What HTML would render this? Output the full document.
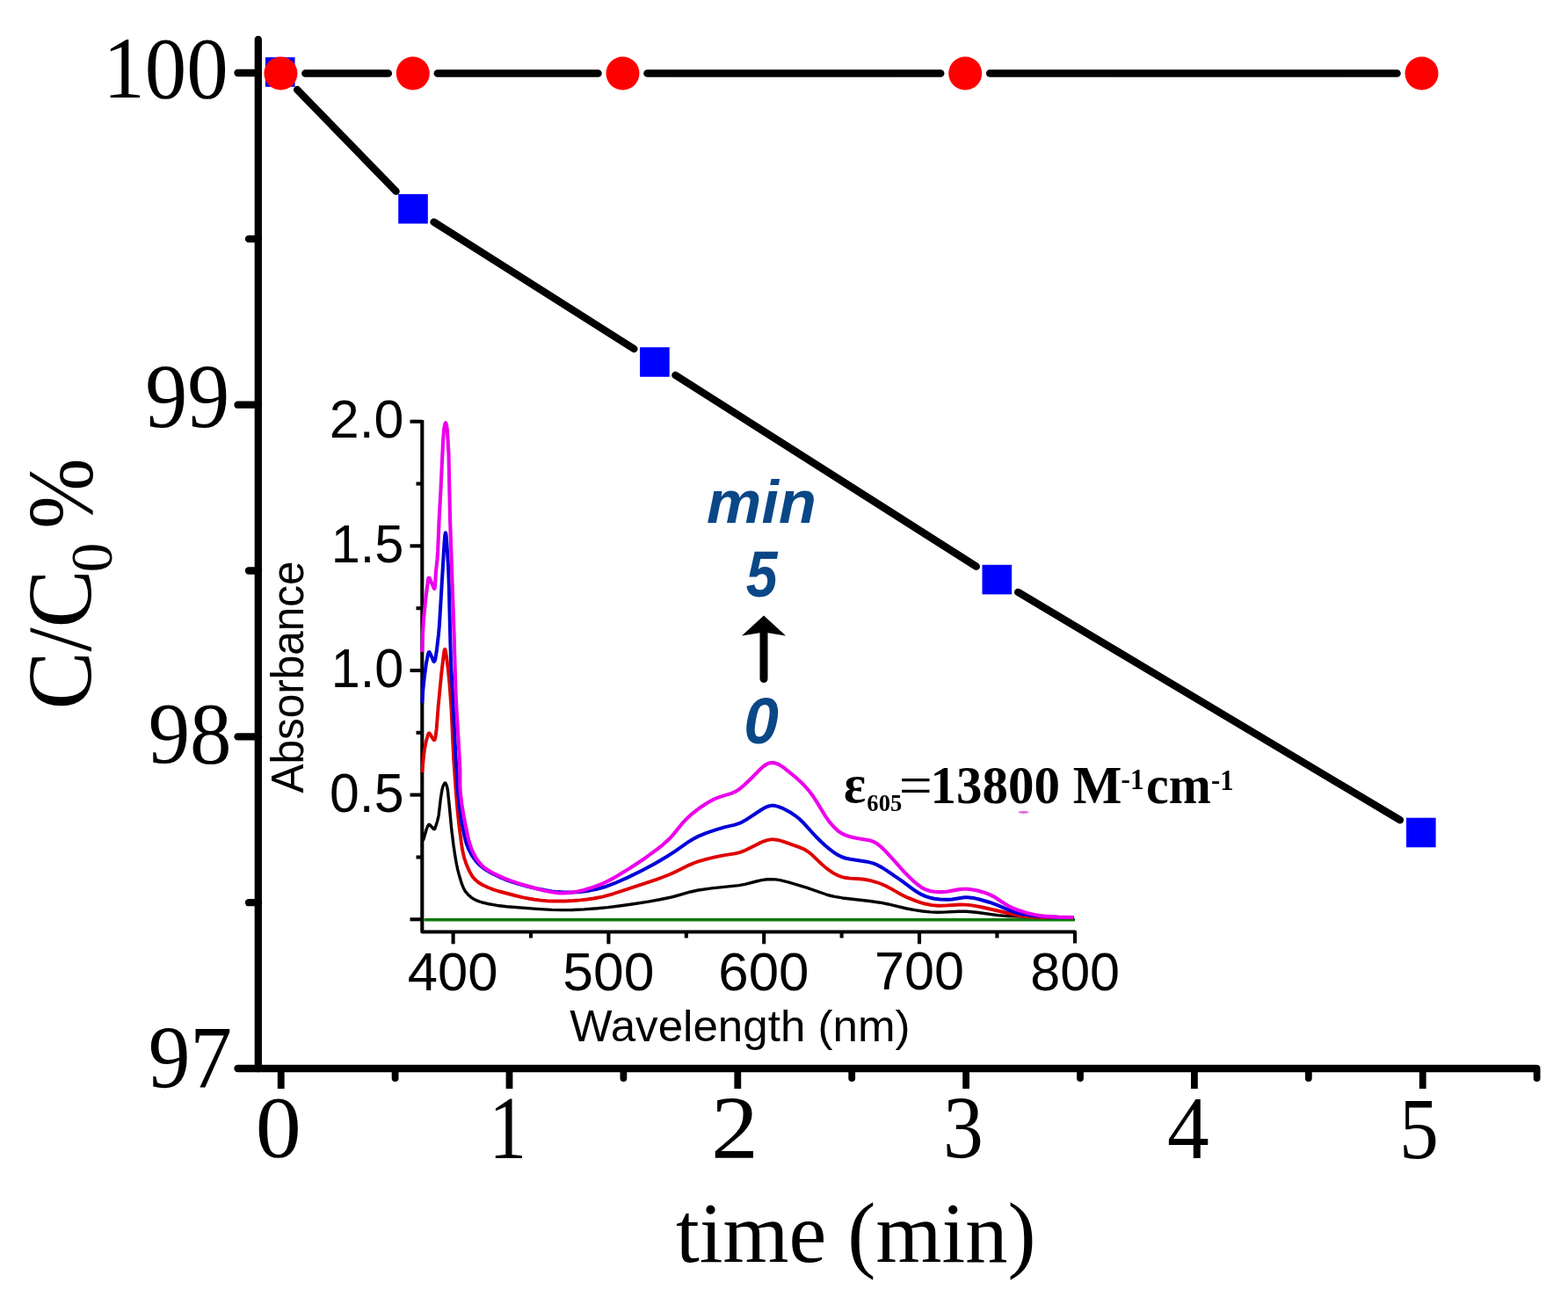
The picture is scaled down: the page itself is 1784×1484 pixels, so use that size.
<!DOCTYPE html><html><head><meta charset="utf-8"><style>html,body{margin:0;padding:0;background:#fff;}svg{display:block;}</style></head><body>
<svg width="1784" height="1484" viewBox="0 0 1784 1484">
<rect width="1784" height="1484" fill="#fff"/>
<g stroke="#000" fill="none">
<line x1="293.8" y1="45" x2="293.8" y2="1216" stroke-width="8.3" stroke-linecap="round"/>
<line x1="270.5" y1="1216" x2="1748" y2="1216" stroke-width="8.3" stroke-linecap="round"/>
<line x1="270.5" y1="83.0" x2="294" y2="83.0" stroke-width="8.3" stroke-linecap="round"/>
<line x1="270.5" y1="460.7" x2="294" y2="460.7" stroke-width="8.3" stroke-linecap="round"/>
<line x1="270.5" y1="838.4" x2="294" y2="838.4" stroke-width="8.3" stroke-linecap="round"/>
<line x1="283" y1="271.9" x2="294" y2="271.9" stroke-width="8.3" stroke-linecap="round"/>
<line x1="283" y1="649.5" x2="294" y2="649.5" stroke-width="8.3" stroke-linecap="round"/>
<line x1="283" y1="1027.2" x2="294" y2="1027.2" stroke-width="8.3" stroke-linecap="round"/>
<line x1="319.7" y1="1216" x2="319.7" y2="1239" stroke-width="7.8"/>
<line x1="579.5" y1="1216" x2="579.5" y2="1239" stroke-width="7.8"/>
<line x1="839.3" y1="1216" x2="839.3" y2="1239" stroke-width="7.8"/>
<line x1="1099.1" y1="1216" x2="1099.1" y2="1239" stroke-width="7.8"/>
<line x1="1358.9" y1="1216" x2="1358.9" y2="1239" stroke-width="7.8"/>
<line x1="1618.7" y1="1216" x2="1618.7" y2="1239" stroke-width="7.8"/>
<line x1="449.6" y1="1216" x2="449.6" y2="1227" stroke-width="7.8" stroke-linecap="round"/>
<line x1="709.4" y1="1216" x2="709.4" y2="1227" stroke-width="7.8" stroke-linecap="round"/>
<line x1="969.2" y1="1216" x2="969.2" y2="1227" stroke-width="7.8" stroke-linecap="round"/>
<line x1="1229.0" y1="1216" x2="1229.0" y2="1227" stroke-width="7.8" stroke-linecap="round"/>
<line x1="1488.8" y1="1216" x2="1488.8" y2="1227" stroke-width="7.8" stroke-linecap="round"/>
<line x1="1748.6" y1="1216" x2="1748.6" y2="1227" stroke-width="7.8" stroke-linecap="round"/>
</g>
<g stroke="#000" stroke-width="8.5" stroke-linecap="round" fill="none">
<line x1="347.4" y1="83.5" x2="441.8" y2="83.5"/>
<line x1="497.8" y1="83.5" x2="680.5" y2="83.5"/>
<line x1="736.5" y1="83.5" x2="1070.2" y2="83.5"/>
<line x1="1126.2" y1="83.5" x2="1589.5" y2="83.5"/>
<line x1="338.2" y1="102.1" x2="450.5" y2="217.6"/>
<line x1="493.6" y1="252.7" x2="721.3" y2="397.0"/>
<line x1="768.5" y1="427.0" x2="1110.7" y2="644.6"/>
<line x1="1158.3" y1="673.9" x2="1592.8" y2="933.2"/>
</g>
<rect x="301.9" y="65.2" width="33.6" height="33.6" fill="#0000ff"/>
<rect x="453.2" y="220.9" width="33.6" height="33.6" fill="#0000ff"/>
<rect x="728.1" y="395.2" width="33.6" height="33.6" fill="#0000ff"/>
<rect x="1117.5" y="642.8" width="33.6" height="33.6" fill="#0000ff"/>
<rect x="1600.0" y="930.7" width="33.6" height="33.6" fill="#0000ff"/>
<circle cx="319.4" cy="83.5" r="19" fill="#ff0000"/>
<circle cx="469.8" cy="83.5" r="19" fill="#ff0000"/>
<circle cx="708.5" cy="83.5" r="19" fill="#ff0000"/>
<circle cx="1098.2" cy="83.5" r="19" fill="#ff0000"/>
<circle cx="1617.5" cy="83.5" r="19" fill="#ff0000"/>
<g stroke="#000" fill="none" stroke-width="4.1">
<polyline points="480.3,478 480.3,1060.5 1223,1060.5 1223,1073.5" stroke-linejoin="round"/>
<line x1="466.5" y1="1046.3" x2="480.3" y2="1046.3"/>
<line x1="466.5" y1="904.6" x2="480.3" y2="904.6"/>
<line x1="466.5" y1="763.0" x2="480.3" y2="763.0"/>
<line x1="466.5" y1="621.3" x2="480.3" y2="621.3"/>
<line x1="466.5" y1="479.7" x2="480.3" y2="479.7"/>
<line x1="473.5" y1="975.5" x2="480" y2="975.5"/>
<line x1="473.5" y1="833.8" x2="480" y2="833.8"/>
<line x1="473.5" y1="692.2" x2="480" y2="692.2"/>
<line x1="473.5" y1="550.5" x2="480" y2="550.5"/>
<line x1="515.6" y1="1060.5" x2="515.6" y2="1074.3"/>
<line x1="692.4" y1="1060.5" x2="692.4" y2="1074.3"/>
<line x1="869.2" y1="1060.5" x2="869.2" y2="1074.3"/>
<line x1="1046.0" y1="1060.5" x2="1046.0" y2="1074.3"/>
<line x1="604.0" y1="1060.5" x2="604.0" y2="1067.5"/>
<line x1="780.8" y1="1060.5" x2="780.8" y2="1067.5"/>
<line x1="957.6" y1="1060.5" x2="957.6" y2="1067.5"/>
<line x1="1134.4" y1="1060.5" x2="1134.4" y2="1067.5"/>
</g>
<line x1="482.5" y1="1046.8" x2="1223" y2="1046.8" stroke="#0a780a" stroke-width="3.6"/>
<path d="M480.50,957.00 L481.70,955.50 L482.05,954.67 L485.13,943.94 L486.49,940.62 L487.61,938.67 L488.20,938.30 L489.09,938.75 L493.39,943.49 L494.10,943.70 L494.59,943.34 L495.03,942.59 L497.68,934.22 L499.15,927.76 L501.33,908.84 L503.04,898.36 L503.73,895.75 L504.58,893.62 L505.89,891.36 L506.50,891.00 L507.05,891.38 L508.06,893.61 L508.88,896.49 L509.34,899.17 L511.03,915.05 L513.76,943.82 L515.98,961.81 L517.79,974.17 L519.43,983.35 L520.88,990.16 L522.12,994.94 L525.50,1006.15 L527.46,1010.94 L529.40,1014.30 L532.63,1018.20 L536.60,1021.64 L539.60,1023.51 L543.60,1025.36 L548.60,1027.01 L554.60,1028.47 L565.60,1030.44 L576.60,1031.76 L610.60,1034.38 L627.60,1035.37 L639.60,1035.67 L651.60,1035.51 L664.60,1034.90 L679.60,1033.78 L691.60,1032.60 L704.60,1031.02 L720.60,1028.75 L737.60,1026.09 L750.60,1023.78 L761.60,1021.51 L768.60,1019.75 L785.60,1014.97 L794.60,1013.01 L809.60,1010.88 L840.60,1007.63 L847.60,1006.31 L860.60,1002.99 L866.60,1001.66 L872.60,1000.79 L878.60,1000.60 L882.60,1000.88 L887.60,1001.63 L897.60,1004.03 L917.60,1010.05 L939.60,1017.77 L944.60,1019.25 L949.60,1020.44 L958.60,1021.94 L989.60,1025.52 L1001.60,1027.20 L1010.60,1028.97 L1031.60,1034.00 L1040.60,1035.65 L1049.60,1037.00 L1058.60,1037.92 L1066.60,1038.24 L1073.60,1038.08 L1090.60,1037.22 L1099.60,1037.26 L1110.60,1038.20 L1135.60,1041.68 L1146.60,1042.57 L1170.60,1043.32 L1221.60,1043.97" stroke="#000000" stroke-width="3.4" fill="none" stroke-linejoin="round"/>
<path d="M480.30,879.00 L481.99,861.05 L483.00,853.00 L484.77,843.71 L486.95,836.18 L487.76,834.58 L488.20,834.30 L488.86,834.65 L492.91,841.28 L493.52,842.08 L494.10,842.30 L494.79,841.41 L495.54,838.54 L496.64,829.75 L498.69,803.18 L502.28,766.23 L504.97,743.56 L505.59,740.19 L505.89,739.24 L506.20,738.90 L506.55,739.32 L506.91,740.48 L507.97,747.00 L509.92,762.62 L511.38,777.51 L513.42,805.32 L516.14,863.87 L518.81,901.54 L520.48,921.48 L522.04,936.95 L524.81,958.71 L526.20,967.69 L528.04,975.94 L530.51,983.34 L533.89,991.13 L537.32,997.18 L540.32,1000.81 L544.32,1004.21 L549.32,1007.24 L555.32,1010.04 L561.32,1012.34 L567.32,1014.26 L586.32,1019.26 L595.32,1021.34 L602.32,1022.73 L608.32,1023.72 L615.32,1024.60 L622.32,1025.21 L629.32,1025.55 L643.32,1025.49 L652.32,1025.05 L660.32,1024.43 L668.32,1023.55 L675.32,1022.52 L686.32,1020.30 L697.32,1017.27 L746.32,1001.05 L755.32,997.76 L762.32,994.95 L769.32,991.75 L784.32,984.35 L789.32,982.21 L794.32,980.40 L802.32,978.04 L812.32,975.66 L823.32,973.41 L836.32,971.33 L841.32,970.12 L844.32,969.13 L848.32,967.47 L863.32,959.89 L869.32,957.28 L872.32,956.29 L875.32,955.62 L877.32,955.37 L880.32,955.31 L885.32,956.00 L890.32,957.44 L909.32,964.15 L913.32,965.82 L916.32,967.34 L920.32,969.91 L923.32,972.30 L935.32,983.87 L940.32,988.13 L947.32,993.07 L951.32,995.35 L954.32,996.75 L958.32,998.16 L962.32,999.06 L967.32,999.65 L978.32,1000.26 L983.32,1000.75 L990.32,1002.07 L997.32,1004.03 L1003.32,1006.22 L1008.32,1008.46 L1013.32,1011.10 L1025.32,1017.94 L1032.32,1021.42 L1042.32,1025.41 L1047.32,1027.09 L1052.32,1028.51 L1060.32,1030.14 L1067.32,1030.76 L1074.32,1030.65 L1092.32,1029.51 L1098.32,1029.59 L1104.32,1030.15 L1110.32,1031.07 L1116.32,1032.25 L1156.32,1041.27 L1163.32,1042.49 L1169.32,1043.19 L1176.32,1043.66 L1185.32,1043.94 L1221.32,1043.97" stroke="#e00000" stroke-width="3.9" fill="none" stroke-linejoin="round"/>
<path d="M480.30,800.00 L481.30,785.00 L482.75,771.02 L484.66,756.67 L487.00,744.48 L487.88,742.21 L488.20,742.00 L488.72,742.31 L491.49,748.11 L492.97,751.92 L493.44,752.73 L493.90,753.00 L494.49,752.37 L495.25,750.04 L496.67,741.71 L498.98,722.03 L499.95,711.06 L505.37,619.66 L506.18,609.79 L506.54,607.29 L506.90,606.40 L507.17,606.87 L507.55,608.83 L508.29,616.26 L510.10,645.81 L510.86,667.74 L512.04,718.60 L513.09,755.06 L515.58,798.90 L518.38,858.93 L520.78,896.83 L521.80,908.12 L523.43,922.49 L525.44,936.36 L528.45,951.47 L530.51,959.43 L533.00,966.00 L537.24,974.13 L541.24,979.63 L544.24,982.95 L547.24,985.76 L551.24,988.87 L554.24,990.86 L560.24,994.23 L568.24,998.06 L575.24,1001.03 L583.24,1003.93 L591.24,1006.40 L601.24,1009.05 L612.24,1011.58 L621.24,1013.31 L628.24,1014.37 L635.24,1015.12 L642.24,1015.50 L649.24,1015.52 L657.24,1015.14 L664.24,1014.45 L671.24,1013.41 L678.24,1012.01 L688.24,1009.27 L699.24,1005.23 L714.24,998.58 L731.24,990.28 L745.24,982.67 L759.24,974.47 L767.24,969.33 L784.24,957.48 L789.24,954.47 L794.24,951.88 L803.24,948.08 L814.24,944.31 L824.24,941.37 L836.24,938.60 L841.24,936.95 L844.24,935.60 L848.24,933.36 L866.24,921.47 L870.24,919.12 L873.24,917.80 L875.24,917.21 L877.24,916.87 L880.24,916.84 L882.24,917.10 L885.24,917.84 L891.24,920.22 L899.24,924.50 L905.24,928.54 L909.24,931.81 L914.24,936.55 L928.24,952.02 L934.24,958.02 L939.24,962.52 L944.24,966.69 L948.24,969.72 L952.24,972.38 L957.24,975.00 L962.24,976.75 L967.24,977.78 L988.24,981.06 L993.24,982.40 L998.24,984.44 L1003.24,987.13 L1010.24,991.62 L1026.24,1002.68 L1038.24,1011.53 L1043.24,1015.00 L1048.24,1017.92 L1053.24,1020.15 L1058.24,1021.69 L1063.24,1022.71 L1069.24,1023.45 L1075.24,1023.79 L1079.24,1023.80 L1083.24,1023.56 L1094.24,1021.68 L1097.24,1021.34 L1101.24,1021.28 L1105.24,1021.65 L1109.24,1022.33 L1114.24,1023.47 L1126.24,1026.96 L1134.24,1029.82 L1147.24,1035.41 L1152.24,1037.36 L1157.24,1038.95 L1163.24,1040.35 L1174.24,1041.95 L1189.24,1043.20 L1200.24,1043.64 L1221.24,1043.95" stroke="#0000d8" stroke-width="4.0" fill="none" stroke-linejoin="round"/>
<path d="M480.30,742.00 L481.10,718.82 L482.02,704.85 L484.16,682.74 L487.09,659.53 L487.51,658.09 L488.00,657.50 L488.44,657.72 L488.92,658.43 L493.83,669.77 L494.20,670.00 L494.55,669.56 L495.04,666.79 L495.91,651.01 L497.51,636.43 L498.12,627.93 L499.55,592.98 L501.60,555.00 L504.08,501.80 L505.14,488.68 L506.16,483.22 L506.73,481.47 L507.00,481.20 L507.28,481.47 L507.85,483.22 L508.94,489.58 L510.48,516.66 L512.07,590.97 L516.52,719.79 L518.54,788.31 L519.40,806.70 L523.02,866.90 L523.35,876.75 L523.38,894.19 L523.80,902.00 L525.34,915.02 L527.70,929.28 L531.98,950.62 L533.42,956.65 L534.83,961.45 L536.14,965.26 L538.14,969.92 L540.14,973.86 L542.14,977.24 L544.14,980.14 L547.14,983.73 L549.14,985.70 L552.14,988.23 L557.14,991.54 L563.14,994.71 L572.14,998.84 L581.14,1002.38 L591.14,1005.66 L611.14,1011.43 L620.14,1013.74 L628.14,1015.33 L634.14,1016.10 L639.14,1016.37 L645.14,1016.21 L651.14,1015.59 L657.14,1014.55 L664.14,1012.89 L671.14,1010.82 L678.14,1008.40 L684.14,1006.05 L689.14,1003.82 L695.14,1000.84 L701.14,997.55 L717.14,987.77 L734.14,976.46 L748.14,966.16 L754.14,961.31 L759.14,956.91 L763.14,952.94 L766.14,949.61 L776.14,937.21 L780.14,932.76 L786.14,927.16 L793.14,921.59 L798.14,918.01 L803.14,914.72 L808.14,911.75 L812.14,909.67 L815.14,908.34 L819.14,906.86 L832.14,902.89 L836.14,901.17 L839.14,899.46 L843.14,896.54 L847.14,893.04 L856.14,884.41 L865.14,875.29 L869.14,871.77 L872.14,869.75 L874.14,868.79 L876.14,868.17 L879.14,867.93 L881.14,868.20 L884.14,869.15 L887.14,870.64 L891.14,873.23 L896.14,877.05 L905.14,884.48 L910.14,888.94 L914.14,892.89 L920.14,899.62 L925.14,906.25 L929.14,912.39 L938.14,927.31 L943.14,934.57 L948.14,940.55 L953.14,945.30 L955.14,946.83 L958.14,948.71 L961.14,950.16 L964.14,951.27 L969.14,952.67 L975.14,954.00 L987.14,955.95 L990.14,956.61 L994.14,958.04 L998.14,960.33 L1002.14,963.51 L1007.14,968.41 L1016.14,978.13 L1028.14,991.61 L1035.14,998.78 L1040.14,1003.42 L1044.14,1006.79 L1048.14,1009.66 L1051.14,1011.39 L1055.14,1013.09 L1059.14,1014.19 L1063.14,1014.82 L1068.14,1015.15 L1073.14,1015.08 L1077.14,1014.69 L1090.14,1012.37 L1095.14,1011.77 L1101.14,1011.75 L1108.14,1012.67 L1112.14,1013.53 L1117.14,1014.90 L1122.14,1016.56 L1126.14,1018.15 L1132.14,1021.18 L1143.14,1028.56 L1149.14,1031.96 L1153.14,1033.76 L1158.14,1035.70 L1168.14,1038.90 L1178.14,1041.28 L1183.14,1042.09 L1188.14,1042.66 L1204.14,1043.67 L1221.14,1043.96" stroke="#ec00ec" stroke-width="4.1" fill="none" stroke-linejoin="round"/>
<ellipse cx="1164.6" cy="924.4" rx="6" ry="1.6" fill="#e070e0"/>
<g transform="matrix(0.9489,0,0,0.9897,14.78,-5.27)"><text x="258" y="117" font-family="'Liberation Serif','Times New Roman',serif" font-size="100" font-weight="normal" font-style="normal" fill="#000" text-anchor="end" >100</text></g>
<g transform="matrix(0.9602,0,0,1.0333,13.61,-24.00)"><text x="258" y="494" font-family="'Liberation Serif','Times New Roman',serif" font-size="100" font-weight="normal" font-style="normal" fill="#000" text-anchor="end" >99</text></g>
<g transform="matrix(0.9484,0,0,1.0015,18.81,-4.90)"><text x="258" y="872" font-family="'Liberation Serif','Times New Roman',serif" font-size="100" font-weight="normal" font-style="normal" fill="#000" text-anchor="end" >98</text></g>
<g transform="matrix(0.9543,0,0,1.0212,17.86,-38.14)"><text x="258" y="1250" font-family="'Liberation Serif','Times New Roman',serif" font-size="100" font-weight="normal" font-style="normal" fill="#000" text-anchor="end" >97</text></g>
<g transform="matrix(1.0405,0,0,0.9851,-12.98,17.70)"><text x="316.85" y="1318" font-family="'Liberation Serif','Times New Roman',serif" font-size="100" font-weight="normal" font-style="normal" fill="#000" text-anchor="middle" >0</text></g>
<g transform="matrix(0.8571,0,0,1.0106,81.79,-14.08)"><text x="578.5" y="1318" font-family="'Liberation Serif','Times New Roman',serif" font-size="100" font-weight="normal" font-style="normal" fill="#000" text-anchor="middle" >1</text></g>
<g transform="matrix(1.0775,0,0,1.0262,-64.26,-34.57)"><text x="835.45" y="1318" font-family="'Liberation Serif','Times New Roman',serif" font-size="100" font-weight="normal" font-style="normal" fill="#000" text-anchor="middle" >2</text></g>
<g transform="matrix(0.9171,0,0,1.0242,90.21,-32.18)"><text x="1096.7" y="1318" font-family="'Liberation Serif','Times New Roman',serif" font-size="100" font-weight="normal" font-style="normal" fill="#000" text-anchor="middle" >3</text></g>
<g transform="matrix(0.9553,0,0,1.0262,60.08,-34.57)"><text x="1352.15" y="1318" font-family="'Liberation Serif','Times New Roman',serif" font-size="100" font-weight="normal" font-style="normal" fill="#000" text-anchor="middle" >4</text></g>
<g transform="matrix(0.8976,0,0,0.9894,164.49,13.49)"><text x="1615.4" y="1318" font-family="'Liberation Serif','Times New Roman',serif" font-size="100" font-weight="normal" font-style="normal" fill="#000" text-anchor="middle" >5</text></g>
<g transform="matrix(0.9640,0,0,0.9811,37.69,27.02)"><text x="971" y="1436" font-family="'Liberation Serif','Times New Roman',serif" font-size="100" font-weight="normal" font-style="normal" fill="#000" text-anchor="middle" >time (min)</text></g>
<g transform="matrix(1.0538,0,0,1.0034,-5.90,1.40)"><text transform="translate(103,803) rotate(-90)" font-family="'Liberation Serif','Times New Roman',serif" font-size="98" fill="#000">C/C</text></g>
<g transform="matrix(1.0279,0,0,1.0148,-2.82,-6.36)"><text transform="translate(126,648) rotate(-90)" font-family="'Liberation Serif','Times New Roman',serif" font-size="66" fill="#000">0</text></g>
<g transform="matrix(1.0692,0,0,0.9853,-6.57,11.44)"><text transform="translate(104,599) rotate(-90)" font-family="'Liberation Serif','Times New Roman',serif" font-size="98" fill="#000">%</text></g>
<g transform="matrix(1.0500,0,0,1.0650,-20.35,-32.47)"><text x="457" y="497.9" font-family="'Liberation Sans',Arial,sans-serif" font-size="58" font-weight="normal" font-style="normal" fill="#000" text-anchor="end" >2.0</text></g>
<g transform="matrix(1.0257,0,0,1.0575,-9.28,-36.90)"><text x="457" y="639.9" font-family="'Liberation Sans',Arial,sans-serif" font-size="58" font-weight="normal" font-style="normal" fill="#000" text-anchor="end" >1.5</text></g>
<g transform="matrix(1.0230,0,0,1.0850,-8.25,-66.67)"><text x="457" y="781.8" font-family="'Liberation Sans',Arial,sans-serif" font-size="58" font-weight="normal" font-style="normal" fill="#000" text-anchor="end" >1.0</text></g>
<g transform="matrix(1.0474,0,0,1.0725,-19.15,-66.62)"><text x="457" y="923.3" font-family="'Liberation Sans',Arial,sans-serif" font-size="58" font-weight="normal" font-style="normal" fill="#000" text-anchor="end" >0.5</text></g>
<g transform="matrix(1.0624,0,0,1.0375,-31.22,-41.93)"><text x="514.3" y="1126.3" font-family="'Liberation Sans',Arial,sans-serif" font-size="58" font-weight="normal" font-style="normal" fill="#000" text-anchor="middle" >400</text></g>
<g transform="matrix(1.0769,0,0,1.0575,-53.27,-64.90)"><text x="692.5" y="1126.9" font-family="'Liberation Sans',Arial,sans-serif" font-size="58" font-weight="normal" font-style="normal" fill="#000" text-anchor="middle" >500</text></g>
<g transform="matrix(1.0663,0,0,1.0575,-57.67,-64.90)"><text x="868.95" y="1126.9" font-family="'Liberation Sans',Arial,sans-serif" font-size="58" font-weight="normal" font-style="normal" fill="#000" text-anchor="middle" >600</text></g>
<g transform="matrix(1.0543,0,0,1.0375,-57.30,-42.13)"><text x="1046.6" y="1126.1" font-family="'Liberation Sans',Arial,sans-serif" font-size="58" font-weight="normal" font-style="normal" fill="#000" text-anchor="middle" >700</text></g>
<g transform="matrix(1.0533,0,0,1.0575,-65.09,-64.90)"><text x="1223.05" y="1126.9" font-family="'Liberation Sans',Arial,sans-serif" font-size="58" font-weight="normal" font-style="normal" fill="#000" text-anchor="middle" >800</text></g>
<g transform="matrix(1.0223,0,0,1.0000,-16.12,0.50)"><text x="650" y="1185" font-family="'Liberation Sans',Arial,sans-serif" font-size="50" font-weight="normal" font-style="normal" fill="#000" text-anchor="start" >Wavelength (nm)</text></g>
<g transform="matrix(1.0333,0,0,0.9898,-11.83,9.82)"><text transform="translate(345.6,902) rotate(-90)" font-family="'Liberation Sans',Arial,sans-serif" font-size="50" fill="#000">Absorbance</text></g>
<g transform="matrix(0.9877,0,0,0.9686,11.09,18.50)"><text x="866" y="595.6" font-family="'Liberation Sans',Arial,sans-serif" font-size="71" font-weight="bold" font-style="italic" fill="#0a4787" text-anchor="middle" >min</text></g>
<g transform="matrix(0.9077,0,0,1.0388,80.48,-26.63)"><text x="866" y="679" font-family="'Liberation Sans',Arial,sans-serif" font-size="71" font-weight="bold" font-style="italic" fill="#0a4787" text-anchor="middle" >5</text></g>
<g transform="matrix(1.0028,0,0,1.0408,-2.46,-34.73)"><text x="866" y="846" font-family="'Liberation Sans',Arial,sans-serif" font-size="71" font-weight="bold" font-style="italic" fill="#0a4787" text-anchor="middle" >0</text></g>
<g transform="matrix(1.0136,0,0,1.0444,-15.05,-40.82)"><text x="962" y="913.3" font-family="'Liberation Serif','Times New Roman',serif" font-weight="bold" fill="#000" font-size="58">ε</text></g>
<g transform="matrix(1.0216,0,0,1.0176,-21.96,-15.79)"><text x="987" y="923" font-family="'Liberation Serif','Times New Roman',serif" font-weight="bold" fill="#000" font-size="26">605</text></g>
<g transform="matrix(1.1630,0,0,1.0786,-170.49,-70.39)"><text x="1026" y="913.3" font-family="'Liberation Serif','Times New Roman',serif" fill="#000" font-size="58">=</text></g>
<g transform="matrix(1.0173,0,0,1.0447,-22.78,-40.54)"><text x="1063" y="913.3" font-family="'Liberation Serif','Times New Roman',serif" font-weight="bold" fill="#000" font-size="58">13800 M</text></g>
<g transform="matrix(0.9792,0,0,1.0333,26.10,-30.47)"><text x="1276" y="898.5" font-family="'Liberation Serif','Times New Roman',serif" font-weight="bold" fill="#000" font-size="32">-1</text></g>
<g transform="matrix(0.9944,0,0,1.0654,5.37,-59.40)"><text x="1306" y="913.3" font-family="'Liberation Serif','Times New Roman',serif" font-weight="bold" fill="#000" font-size="58">cm</text></g>
<g transform="matrix(0.9542,0,0,1.0619,62.25,-55.55)"><text x="1379" y="899" font-family="'Liberation Serif','Times New Roman',serif" font-weight="bold" fill="#000" font-size="32">-1</text></g>
<line x1="869" y1="772.5" x2="869" y2="712" stroke="#000" stroke-width="9" stroke-linecap="round"/>
<path d="M869,700.5 L894,723.5 L869,719.5 L844,723.5 Z" fill="#000"/>
</svg></body></html>
